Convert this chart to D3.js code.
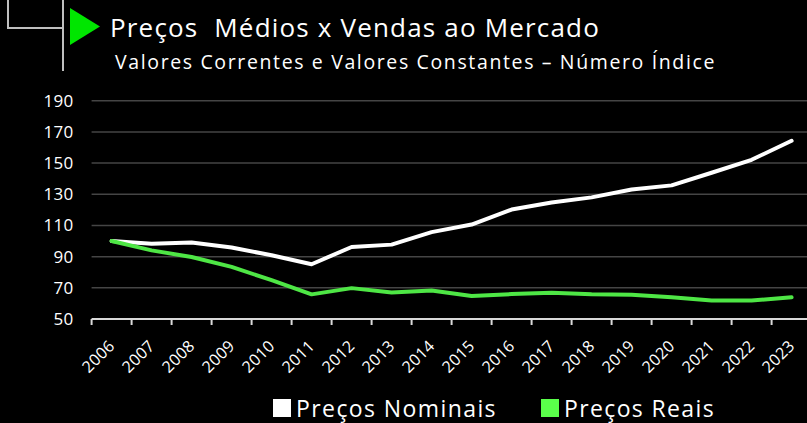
<!DOCTYPE html>
<html>
<head>
<meta charset="utf-8">
<script src="https://cdn.jsdelivr.net/npm/d3@7"></script>
<style>
  html, body { margin: 0; padding: 0; background: #000; }
  text { font-family: 'Open Sans', sans-serif; fill: #fff; }
</style>
</head>
<body>
<div class="canvas"></div>
<script>
const years = ['2006','2007','2008','2009','2010','2011','2012','2013','2014','2015','2016','2017','2018','2019','2020','2021','2022','2023']
const nominais = [100, 98.3, 99, 95.8, 90.9, 85.1, 96.2, 97.7, 105.7, 110.6, 120.2, 124.7, 128, 133, 135.7, 143.8, 152.1, 164.3]
const reais = [100, 94, 89.8, 83.4, 74.9, 65.8, 69.8, 67, 68.3, 64.7, 66, 66.8, 65.8, 65.5, 63.9, 61.9, 61.9, 63.9]
const yTicks = [50, 70, 90, 110, 130, 150, 170, 190]
const seriesNames = ['Preços Nominais', 'Preços Reais']

const width = 807, height = 423

const svg = d3.select('.canvas').append('svg').attr('width', width).attr('height', height)

svg.append('rect').attr('width', width).attr('height', height).attr('fill', '#000')

// small letter-spacing tweak so the text covers the width of the original font
function fit(sel, target) {
    sel.each(function() {
        const len = this.getComputedTextLength()
        const n = this.textContent.length
        d3.select(this).style('letter-spacing', ((target - len) / n) + 'px')
    })
}

// decoracao do canto
svg.append('path')
    .attr('d', 'M8,0 V28 H63 M63,0 V71')
    .attr('fill', 'none')
    .attr('stroke', '#bfbfbf')
    .attr('stroke-width', 2)
svg.append('path')
    .attr('d', 'M70,8 L100,26.5 L70,45 Z')
    .attr('fill', '#00e600')

svg.append('text')
    .attr('x', 110).attr('y', 37)
    .style('font-size', '26px')
    .style('white-space', 'pre')
    .text('Preços  Médios x Vendas ao Mercado')
    .call(fit, 490)
svg.append('text')
    .attr('x', 115).attr('y', 69)
    .style('font-size', '19.5px')
    .text('Valores Correntes e Valores Constantes – Número Índice')
    .call(fit, 601)

const x = d3.scaleBand().domain(years).range([91.6, 811.6]).padding(0)
const y = d3.scaleLinear().domain([50, 190]).range([319, 100.7])

const graph = svg.append('g')

graph.selectAll('line.grid').data(yTicks.slice(1)).enter()
    .append('line')
    .attr('class', 'grid')
    .attr('x1', 91.6).attr('x2', width)
    .attr('y1', d => y(d)).attr('y2', d => y(d))
    .attr('stroke', '#454545')
    .attr('stroke-width', 1.5)

const yAxis = d3.axisLeft(y).tickValues(yTicks).tickSize(0).tickPadding(18)
const yAxisG = graph.append('g').attr('transform', 'translate(91.6,0)').call(yAxis)
yAxisG.select('.domain').remove()
yAxisG.selectAll('text')
    .style('font-size', '17px')
    .style('font-family', "'Open Sans', sans-serif")
    .style('letter-spacing', '0.3px')
    .attr('fill', '#fff')

const xAxisG = graph.append('g').attr('transform', 'translate(0,319)')
xAxisG.append('line')
    .attr('x1', 91.6).attr('x2', width)
    .attr('stroke', '#d9d9d9').attr('stroke-width', 2)
xAxisG.selectAll('line.tick').data(years).enter()
    .append('line')
    .attr('class', 'tick')
    .attr('x1', d => x(d)).attr('x2', d => x(d))
    .attr('y1', 0).attr('y2', 6)
    .attr('stroke', '#d9d9d9').attr('stroke-width', 2)
xAxisG.selectAll('text').data(years).enter()
    .append('text')
    .attr('text-anchor', 'end')
    .attr('transform', d => `translate(${x(d) + x.bandwidth() / 2 + 4}, 28) rotate(-45)`)
    .style('font-size', '16px')
    .style('letter-spacing', '0.3px')
    .text(d => d)

const line = d3.line()
    .x((d, i) => x(years[i]) + x.bandwidth() / 2)
    .y(d => y(d))

graph.append('path').datum(nominais)
    .attr('d', line)
    .attr('fill', 'none')
    .attr('stroke', '#fff')
    .attr('stroke-width', 4)
    .attr('stroke-linejoin', 'round')
    .attr('stroke-linecap', 'round')

graph.append('path').datum(reais)
    .attr('d', line)
    .attr('fill', 'none')
    .attr('stroke', '#4ee645')
    .attr('stroke-width', 4)
    .attr('stroke-linejoin', 'round')
    .attr('stroke-linecap', 'round')

// legenda
const legendColors = ['#fff', '#5aff4a']
const legendX = [273, 541]
const legendW = [201, 151]
const legend = svg.selectAll('g.legend').data(seriesNames).enter()
    .append('g')
    .attr('class', 'legend')
    .attr('transform', (d, i) => `translate(${legendX[i]}, 399)`)
legend.append('rect')
    .attr('width', 18).attr('height', 18)
    .attr('fill', (d, i) => legendColors[i])
legend.append('text')
    .attr('x', 23).attr('y', 17.5)
    .style('font-size', '23px')
    .text(d => d)
    .each(function(d, i) { d3.select(this).call(fit, legendW[i]) })
</script>
</body>
</html>
